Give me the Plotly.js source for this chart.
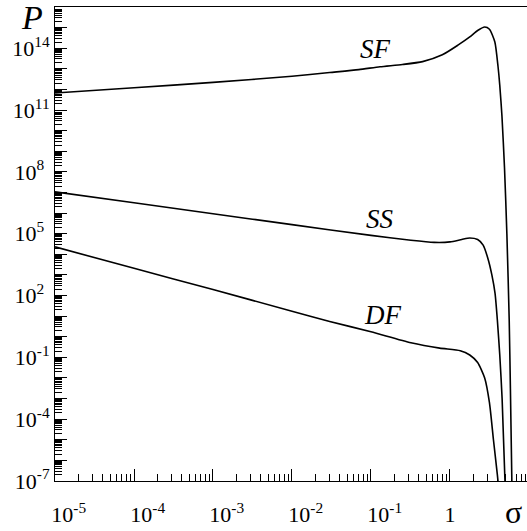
<!DOCTYPE html>
<html>
<head>
<meta charset="utf-8">
<script src="https://cdn.plot.ly/plotly-3.0.1.min.js"></script>
<style>html,body{margin:0;padding:0;background:#fff;}#chart{width:527px;height:531px;}</style>
</head>
<body>
<div id="chart"></div>
<script>
// SF curve
const sigmaSF = [1e-5, 1e-4, 1e-3, 1e-2, 0.03, 0.07, 0.13, 0.25, 0.45, 0.8, 1.26, 1.78, 2.24, 2.75, 3.16, 3.7, 4.06, 4.27, 4.55, 4.9, 5.25, 5.62, 5.82, 6.1];
const pSF = [6.76e11, 1.2e12, 2.19e12, 4.37e12, 6.61e12, 9.12e12, 1.26e13, 1.62e13, 2.24e13, 4.79e13, 1.41e14, 3.55e14, 7.24e14, 1.07e15, 8.32e14, 2.0e14, 1.26e13, 1.58e12, 5.0e10, 1.58e8, 1e5, 6.3, 3.2e-3, 3.2e-8];
// SS curve
const sigmaSS = [1e-5, 1e-4, 1e-3, 1e-2, 0.1, 0.32, 0.63, 1, 1.41, 1.78, 2.24, 2.63, 3.02, 3.39, 3.72, 3.98, 4.27, 4.57, 5.0];
const pSS = [1.07e7, 3.16e6, 9.33e5, 2.75e5, 8.3e4, 4.8e4, 3.8e4, 4.0e4, 5.25e4, 6.2e4, 5.25e4, 2.8e4, 6.3e3, 1.0e3, 126, 6.3, 0.126, 1e-3, 5e-8];
// DF curve
const sigmaDF = [1e-5, 1e-4, 1e-3, 1e-2, 0.03, 0.1, 0.32, 0.74, 1.35, 1.78, 2.24, 2.75, 3.16, 3.55, 3.98, 4.17];
const pDF = [2.29e4, 2.09e3, 195, 17.4, 5.5, 1.74, 0.51, 0.28, 0.21, 0.13, 0.056, 0.01, 6.3e-4, 1e-5, 2e-7, 3.2e-8];

const curveNames = ["SF", "SS", "DF"];

// tick labels
const xTickVals = [1e-5, 1e-4, 1e-3, 1e-2, 1e-1, 1];
const xTickText = ["\u00a0\u00a0\u00a0\u00a0\u00a010<sup>-5</sup>", "\u00a0\u00a0\u00a0\u00a0\u00a010<sup>-4</sup>", "\u00a0\u00a0\u00a0\u00a0\u00a010<sup>-3</sup>", "\u00a0\u00a0\u00a0\u00a0\u00a010<sup>-2</sup>", "\u00a0\u00a0\u00a0\u00a0\u00a010<sup>-1</sup>", "1"];
const yLabelExps = [-7, -4, -1, 2, 5, 8, 11, 14];
const yLabelText = ["10<sup>-7</sup>", "10<sup>-4</sup>", "10<sup>-1</sup>", "10<sup>2</sup>\u00a0", "10<sup>5</sup>\u00a0", "10<sup>8</sup>\u00a0", "10<sup>11</sup>", "10<sup>14</sup>"];

const yTickVals = [], yTickText = [];
for (let k = -7; k <= 16; k++) {
  yTickVals.push(Math.pow(10, k));
  const i = yLabelExps.indexOf(k);
  yTickText.push(i >= 0 ? yLabelText[i] : "");
}
const yMinor = [];
for (let k = -7; k <= 15; k++) for (let m = 2; m <= 9; m++) yMinor.push(m * Math.pow(10, k));
const xMinor = [];
for (let k = -5; k <= 0; k++) for (let m = 2; m <= 9; m++) xMinor.push(m * Math.pow(10, k));

const serif = 'Liberation Serif';
const lineStyle = {color: "#000", width: 1.6, shape: "spline", smoothing: 0.6};

const traces = [
  {x: sigmaSF, y: pSF, name: curveNames[0], mode: "lines", line: lineStyle},
  {x: sigmaSS, y: pSS, name: curveNames[1], mode: "lines", line: lineStyle},
  {x: sigmaDF, y: pDF, name: curveNames[2], mode: "lines", line: lineStyle}
];

const layout = {
  width: 527, height: 531,
  margin: {l: 55, r: 0, t: 7, b: 50, pad: 0},
  paper_bgcolor: "#fff", plot_bgcolor: "#fff",
  showlegend: false,
  font: {family: serif, color: "#000", size: 22},
  xaxis: {
    type: "log", range: [-5, 0.975],
    showgrid: false, zeroline: false,
    showline: true, linecolor: "#000", linewidth: 1, mirror: true,
    ticks: "inside", ticklen: 12, tickwidth: 1, tickcolor: "#000",
    tickmode: "array", tickvals: xTickVals, ticktext: xTickText, tickangle: 0,
    tickfont: {family: serif, size: 22, color: "#000"},
    ticklabelstandoff: 14,
    minor: {ticks: "inside", ticklen: 7, tickwidth: 1, tickcolor: "#000", tickmode: "array", tickvals: xMinor, showgrid: false}
  },
  yaxis: {
    type: "log", range: [-7, 16],
    showgrid: false, zeroline: false,
    showline: true, linecolor: "#000", linewidth: 1,
    ticks: "inside", ticklen: 12, tickwidth: 1, tickcolor: "#000",
    tickmode: "array", tickvals: yTickVals, ticktext: yTickText,
    tickfont: {family: serif, size: 22, color: "#000"},
    minor: {ticks: "inside", ticklen: 7, tickwidth: 1, tickcolor: "#000", tickmode: "array", tickvals: yMinor, showgrid: false}
  },
  annotations: [
    {text: "P", xref: "paper", yref: "paper", x: -0.0487, y: 0.977, showarrow: false, xanchor: "center", yanchor: "middle", font: {family: serif, size: 34, style: "italic"}},
    {text: "σ", xref: "paper", yref: "paper", x: (513 - 55) / 472, y: (481 - 512) / 474, showarrow: false, xanchor: "center", yanchor: "middle", font: {family: serif, size: 32}},
    {text: "<i>" + curveNames[0] + "</i>", xref: "paper", yref: "paper", x: 0.680, y: 0.911, showarrow: false, xanchor: "center", yanchor: "middle", font: {family: serif, size: 27}},
    {text: "<i>" + curveNames[1] + "</i>", xref: "paper", yref: "paper", x: 0.689, y: 0.553, showarrow: false, xanchor: "center", yanchor: "middle", font: {family: serif, size: 27}},
    {text: "<i>" + curveNames[2] + "</i>", xref: "paper", yref: "paper", x: 0.693, y: 0.350, showarrow: false, xanchor: "center", yanchor: "middle", font: {family: serif, size: 27}}
  ]
};

Plotly.newPlot("chart", traces, layout, {displayModeBar: false, staticPlot: true});
</script>
</body>
</html>
